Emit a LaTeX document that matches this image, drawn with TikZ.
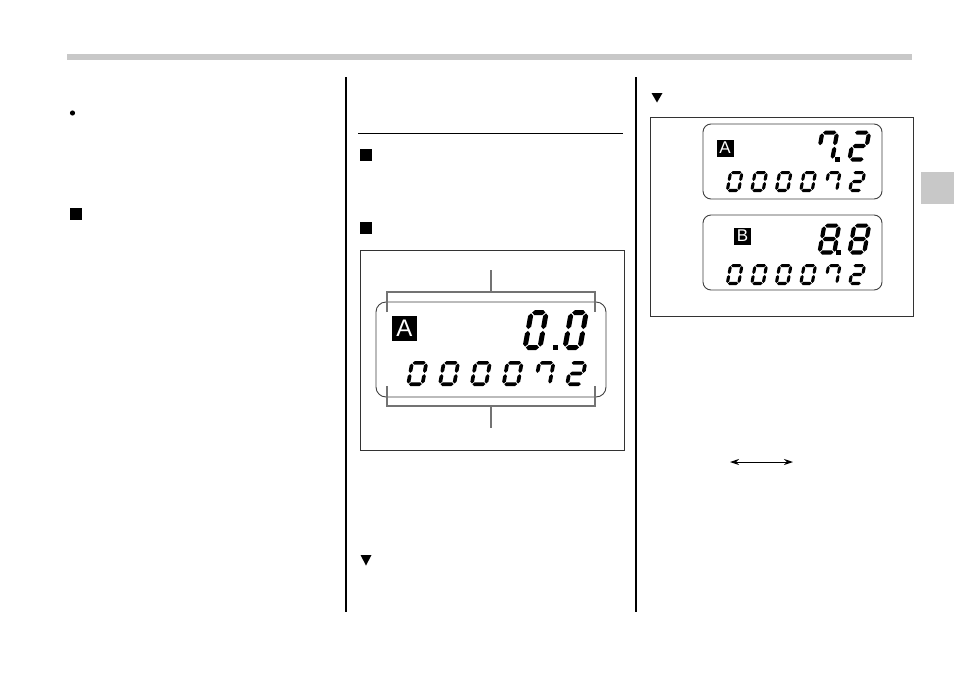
\documentclass[tikz,border=0pt]{standalone}
\usepackage{fontspec}
\setsansfont{Liberation Sans}
\usetikzlibrary{arrows.meta}
\definecolor{bargray}{HTML}{C8C8C8}
\tikzset{
  colrule/.style={line width=1.3pt, black},
  figbox/.style={draw=black!80, line width=0.9pt},
  lcdbig/.style={draw=black!75, line width=0.9pt, rounded corners=10pt},
  lcdsmall/.style={draw=black!75, line width=0.9pt, rounded corners=8pt},
  bracketline/.style={draw=black!55, line width=1.2pt},
  badge/.style={fill=black, text=white, inner sep=0pt, font=\sffamily},
  dblarrow/.style={{Stealth[length=9pt,width=6pt]}-{Stealth[length=9pt,width=6pt]}, line width=1pt},
}
% seven segment helpers
\newcommand\hsegm[1]{\fill (\dgXl+\dgG,#1) -- (\dgT+\dgG,#1+\dgT/2) -- (\dgW-\dgT-\dgG,#1+\dgT/2) -- (\dgXr-\dgG,#1) -- (\dgW-\dgT-\dgG,#1-\dgT/2) -- (\dgT+\dgG,#1-\dgT/2) -- cycle;}
\newcommand\vsegm[3]{\fill (#1,#2+\dgG) -- (#1+\dgT/2,#2+\dgG+\dgT/2) -- (#1+\dgT/2,#3-\dgG-\dgT/2) -- (#1,#3-\dgG) -- (#1-\dgT/2,#3-\dgG-\dgT/2) -- (#1-\dgT/2,#2+\dgG+\dgT/2) -- cycle;}
\newcommand\SGa{\hsegm{\dgYt}}
\newcommand\SGb{\vsegm{\dgXr}{\dgYm}{\dgYt}}
\newcommand\SGc{\vsegm{\dgXr}{\dgYb}{\dgYm}}
\newcommand\SGd{\hsegm{\dgYb}}
\newcommand\SGe{\vsegm{\dgXl}{\dgYb}{\dgYm}}
\newcommand\SGf{\vsegm{\dgXl}{\dgYm}{\dgYt}}
\newcommand\SGg{\hsegm{\dgYm}}
\newcommand\DZero{\SGa\SGb\SGc\SGd\SGe\SGf}
\newcommand\DSeven{\SGa\SGb\SGc\SGf}
\newcommand\DTwo{\SGa\SGb\SGg\SGe\SGd}
\newcommand\DEight{\SGa\SGb\SGc\SGd\SGe\SGf\SGg}
\newcommand\sdigit[6]{%
  \begin{scope}[shift={(#1,#2)},xslant=0.18,y=1pt]
    \pgfmathsetmacro\dgW{#3}\pgfmathsetmacro\dgT{#5}\pgfmathsetmacro\dgG{0.18*#5}%
    \pgfmathsetmacro\dgYt{#4-#5/2}\pgfmathsetmacro\dgYm{#4/2}\pgfmathsetmacro\dgYb{#5/2}%
    \pgfmathsetmacro\dgXr{#3-#5/2}\pgfmathsetmacro\dgXl{#5/2}%
    #6
  \end{scope}}
\begin{document}
\begin{tikzpicture}[x=1pt,y=-1pt]
\useasboundingbox (0,0) rectangle (954,675);
\fill[white] (0,0) rectangle (954,675);
% header bar and side tab
\fill[bargray] (67,54) rectangle (912,60);
\fill[bargray] (921,172) rectangle (954,204);
% column rules
\draw[colrule] (346,77) -- (346,612);
\draw[colrule] (636,77) -- (636,612);
% left column marks
\fill (72.5,113) circle (2.6);
\fill (70,208) rectangle (82,220);
% middle column marks
\draw[line width=1pt] (358,133.5) -- (623,133.5);
\fill (360,149) rectangle (372,161);
\fill (360,222) rectangle (372,234);
\fill (360.5,555) -- (371.5,555) -- (366,565.5) -- cycle;
% right column marks
\fill (651.5,93) -- (662.5,93) -- (657,102.5) -- cycle;

% ---- figure 1 ----
\draw[figbox] (360,250) rectangle (624,450);
\draw[lcdbig] (376,302) rectangle (606,397);
\draw[bracketline] (387,312) -- (387,292) -- (595,292) -- (595,312);
\draw[bracketline] (491,292) -- (491,270);
\draw[bracketline] (387,386) -- (387,406) -- (595,406) -- (595,386);
\draw[bracketline] (491,406) -- (491,428);
\node[badge, minimum size=25pt, font=\sffamily\fontsize{24}{24}\selectfont] (badgeA1) at (404.5,328.5) {A};
\sdigit{522}{350}{20}{40}{5}{\DZero}
\fill (552.5,345) rectangle (558,350);
\sdigit{562}{350}{20}{40}{5}{\DZero}
\sdigit{406}{386}{18}{25}{3.7}{\DZero}
\sdigit{437.8}{386}{18}{25}{3.7}{\DZero}
\sdigit{469.6}{386}{18}{25}{3.7}{\DZero}
\sdigit{501.4}{386}{18}{25}{3.7}{\DZero}
\sdigit{533.2}{386}{18}{25}{3.7}{\DSeven}
\sdigit{565}{386}{18}{25}{3.7}{\DTwo}

% ---- figure 2 ----
\draw[figbox] (650,117) rectangle (913,316);
\draw[lcdsmall] (703,124) rectangle (882,199);
\draw[lcdsmall] (703,215) rectangle (882,290);
\node[badge, minimum size=17pt, font=\sffamily\fontsize{17}{17}\selectfont] (badgeA2) at (725,148) {A};
\node[badge, minimum size=17pt, font=\sffamily\fontsize{17}{17}\selectfont] (badgeB2) at (742.5,236) {B};
\sdigit{815}{161.5}{19}{31}{4.2}{\DSeven}
\fill (835,157) rectangle (840,162);
\sdigit{847}{161.5}{19}{31}{4.2}{\DTwo}
\sdigit{817}{254.5}{19}{31}{4.2}{\DEight}
\fill (836,250) rectangle (841,255);
\sdigit{847}{254.5}{19}{31}{4.2}{\DEight}
\sdigit{725.5}{192}{14.5}{21}{3.1}{\DZero}
\sdigit{750}{192}{14.5}{21}{3.1}{\DZero}
\sdigit{774.5}{192}{14.5}{21}{3.1}{\DZero}
\sdigit{799}{192}{14.5}{21}{3.1}{\DZero}
\sdigit{823.5}{192}{14.5}{21}{3.1}{\DSeven}
\sdigit{848}{192}{14.5}{21}{3.1}{\DTwo}
\sdigit{725.5}{285}{14.5}{21}{3.1}{\DZero}
\sdigit{750}{285}{14.5}{21}{3.1}{\DZero}
\sdigit{774.5}{285}{14.5}{21}{3.1}{\DZero}
\sdigit{799}{285}{14.5}{21}{3.1}{\DZero}
\sdigit{823.5}{285}{14.5}{21}{3.1}{\DSeven}
\sdigit{848}{285}{14.5}{21}{3.1}{\DTwo}

% double arrow
\coordinate (arrL) at (730,462);
\coordinate (arrR) at (793,462);
\draw[dblarrow] (arrL) -- (arrR);
\end{tikzpicture}
\end{document}
